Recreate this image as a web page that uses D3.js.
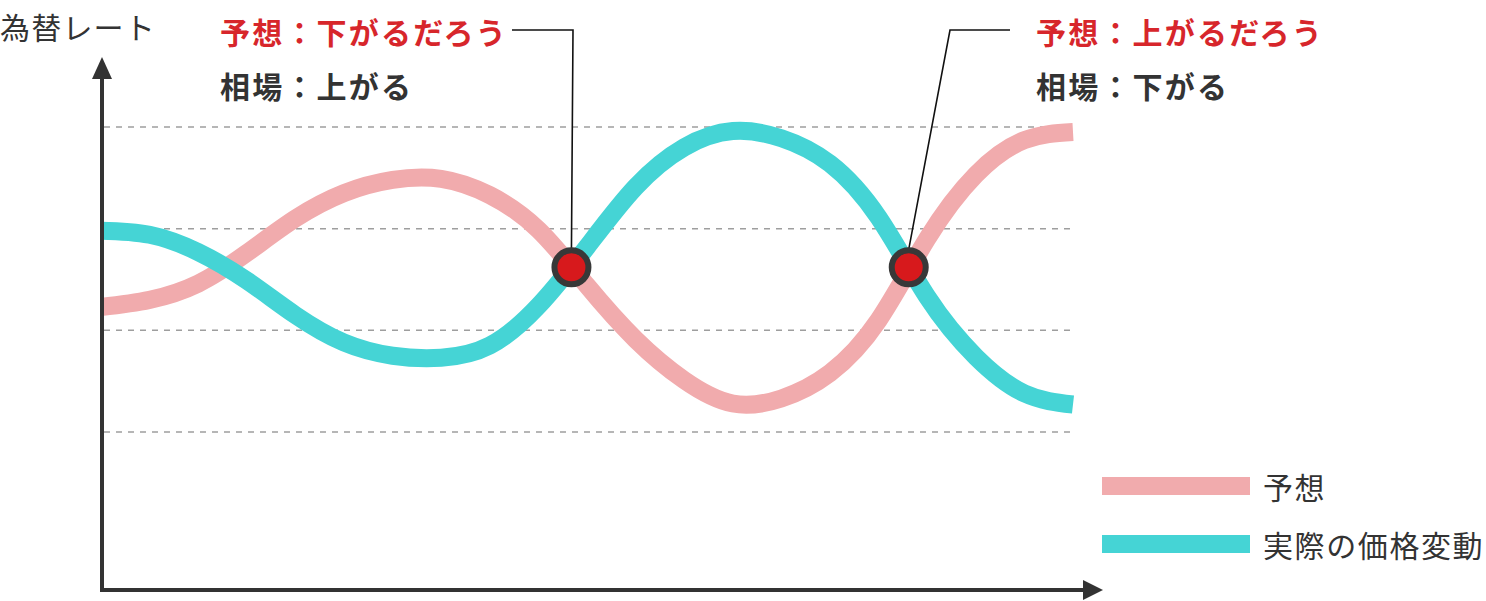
<!DOCTYPE html>
<html lang="ja">
<head>
<meta charset="utf-8">
<title>為替レート</title>
<script src="https://cdn.jsdelivr.net/npm/d3@7"></script>
<style>
  html, body { margin: 0; padding: 0; background: #fff; }
  svg { display: block; }
  text { font-family: "Noto Sans CJK JP", "Noto Sans", sans-serif; }
</style>
</head>
<body>
<svg id="chart" width="1486" height="601"></svg>
<script>
// 時間軸 (0〜100, 5刻み) と為替レートの相対値 (点線 = 1〜4)
const timeSteps = [0, 5, 10, 15, 20, 25, 30, 35, 40, 45, 50, 55, 60, 65, 70, 75, 80, 85, 90, 95, 100];
const forecastV = [2.23, 2.30, 2.46, 2.76, 3.10, 3.35, 3.48, 3.49, 3.33, 2.99, 2.44, 1.91, 1.51, 1.28, 1.33, 1.58, 2.10, 2.90, 3.53, 3.87, 3.95];
const actualV = [2.98, 2.94, 2.77, 2.49, 2.15, 1.88, 1.75, 1.73, 1.85, 2.24, 2.82, 3.41, 3.80, 3.96, 3.89, 3.64, 3.11, 2.33, 1.74, 1.38, 1.27];

const gridValues = [1, 2, 3, 4];

// 予想と実際が交わる点
const crossT = [48.4, 83.1];
const crossV = [2.62, 2.62];

const noteForecast = ['予想：下がるだろう', '予想：上がるだろう'];
const noteMarket = ['相場：上がる', '相場：下がる'];

const legendLabels = ['予想', '実際の価格変動'];
const axisTitle = '為替レート';

const COLORS = {
  forecast: '#f1abad',
  actual: '#45d4d5',
  axis: '#333333',
  grid: '#9e9e9e',
  dot: '#d7191c',
  dotStroke: '#383838',
  red: '#d7262b',
  text: '#333333'
};

const svg = d3.select('#chart');

const x = d3.scaleLinear().domain([0, 100]).range([101, 1073]);
const y = d3.scaleLinear().domain([1, 4]).range([432, 127]);

const axisX = 102;
const axisY = 590;

// 点線のグリッド
svg.append('g')
  .selectAll('line')
  .data(gridValues)
  .join('line')
  .attr('x1', axisX + 2)
  .attr('x2', x(100))
  .attr('y1', d => y(d))
  .attr('y2', d => y(d))
  .attr('stroke', COLORS.grid)
  .attr('stroke-width', 1.5)
  .attr('stroke-dasharray', '6,6');

// 曲線
const line = d3.line()
  .x(d => x(d[0]))
  .y(d => y(d[1]))
  .curve(d3.curveNatural);

const series = [
  { name: legendLabels[0], color: COLORS.forecast, pts: d3.zip(timeSteps, forecastV) },
  { name: legendLabels[1], color: COLORS.actual, pts: d3.zip(timeSteps, actualV) }
];

svg.append('g')
  .selectAll('path')
  .data(series)
  .join('path')
  .attr('d', d => line(d.pts))
  .attr('fill', 'none')
  .attr('stroke', d => d.color)
  .attr('stroke-width', 18)
  .attr('stroke-linecap', 'butt');

// 軸 (矢印付き)
const axes = svg.append('g');
axes.append('line')
  .attr('x1', axisX).attr('y1', axisY + 2)
  .attr('x2', axisX).attr('y2', 76)
  .attr('stroke', COLORS.axis).attr('stroke-width', 4);
axes.append('path')
  .attr('d', `M${axisX - 10},79 L${axisX},57 L${axisX + 10},79 Z`)
  .attr('fill', COLORS.axis);
axes.append('line')
  .attr('x1', axisX - 2).attr('y1', axisY)
  .attr('x2', 1086).attr('y2', axisY)
  .attr('stroke', COLORS.axis).attr('stroke-width', 4);
axes.append('path')
  .attr('d', `M1083,${axisY - 10} L1103,${axisY} L1083,${axisY + 10} Z`)
  .attr('fill', COLORS.axis);

axes.append('text')
  .attr('x', 0)
  .attr('y', 26)
  .attr('dominant-baseline', 'central')
  .attr('font-size', 30)
  .attr('letter-spacing', 1.2)
  .attr('fill', COLORS.text)
  .text(axisTitle);

// 引き出し線と注記
const crosses = d3.zip(crossT, crossV);
const notes = [
  { lineTop: [573, 30], lineEnd: 512, textX: 220 },
  { lineTop: [950, 30], lineEnd: 1010, textX: 1036 }
];

const leader = svg.append('g');
crosses.forEach((c, i) => {
  const cx = x(c[0]);
  const cy = y(c[1]);
  const n = notes[i];
  leader.append('path')
    .attr('d', `M${cx},${cy - 18} L${n.lineTop[0]},${n.lineTop[1]} L${n.lineEnd},${n.lineTop[1]}`)
    .attr('fill', 'none')
    .attr('stroke', '#111')
    .attr('stroke-width', 1.6);

  leader.append('text')
    .attr('x', n.textX)
    .attr('y', 31)
    .attr('dominant-baseline', 'central')
    .attr('font-size', 30)
    .attr('font-weight', 'bold')
    .attr('letter-spacing', 2.2)
    .attr('fill', COLORS.red)
    .text(noteForecast[i]);

  leader.append('text')
    .attr('x', n.textX)
    .attr('y', 85)
    .attr('dominant-baseline', 'central')
    .attr('font-size', 30)
    .attr('font-weight', 'bold')
    .attr('letter-spacing', 2.2)
    .attr('fill', COLORS.text)
    .text(noteMarket[i]);
});

// 交点の丸
svg.append('g')
  .selectAll('circle')
  .data(crosses)
  .join('circle')
  .attr('cx', d => x(d[0]))
  .attr('cy', d => y(d[1]))
  .attr('r', 17)
  .attr('fill', COLORS.dot)
  .attr('stroke', COLORS.dotStroke)
  .attr('stroke-width', 6);

// 凡例
const legend = svg.append('g').attr('transform', 'translate(1102,486)');
const item = legend.selectAll('g')
  .data(series)
  .join('g')
  .attr('transform', (d, i) => `translate(0,${i * 58})`);
item.append('rect')
  .attr('x', 0).attr('y', -9)
  .attr('width', 148).attr('height', 18)
  .attr('fill', d => d.color);
item.append('text')
  .attr('x', 161)
  .attr('y', 0)
  .attr('dominant-baseline', 'central')
  .attr('font-size', 30)
  .attr('letter-spacing', 1.6)
  .attr('fill', COLORS.text)
  .text(d => d.name);
</script>
</body>
</html>
